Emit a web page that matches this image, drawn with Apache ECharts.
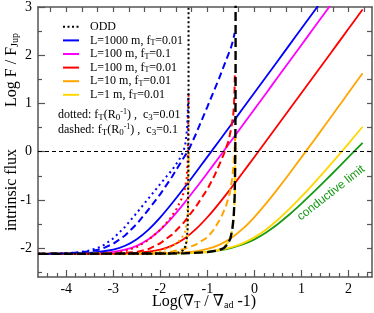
<!DOCTYPE html>
<html>
<head>
<meta charset="utf-8">
<script src="https://cdn.jsdelivr.net/npm/echarts@6/dist/echarts.min.js"></script>
<style>html,body{margin:0;padding:0;background:#fff;}#c{width:374px;height:313px;}</style>
</head>
<body>
<div id="c"></div>
<script>
// ---- tick values ----
const xMajorTicks = [-4, -3, -2, -1, 0, 1, 2];
const xMinorTicks = [-4.4, -4.2, -3.8, -3.6, -3.4, -3.2, -2.8, -2.6, -2.4, -2.2, -1.8, -1.6, -1.4, -1.2, -0.8, -0.6, -0.4, -0.2, 0.2, 0.4, 0.6, 0.8, 1.2, 1.4, 1.6, 1.8, 2.2, 2.4];
const xTopTicks = [-4.333, -4, -3.667, -3.333, -3, -2.667, -2.333, -2, -1.667, -1.333, -1, -0.667, -0.333, 0, 0.333, 0.667, 1, 1.333, 1.667, 2, 2.333];
const yMajorTicks = [-2, -1, 0, 1, 2, 3];
const yMinorTicks = [-2.5, -1.5, -0.5, 0.5, 1.5, 2.5];
const yRightTicks = [-2.5, -2, -1.5, -1, -0.5, 0, 0.5, 1, 1.5, 2, 2.5];

// ---- solid curves (common x grid) ----
const xGrid = [-4.6, -4.0, -3.5, -3.0, -2.75, -2.5, -2.25, -2.0, -1.75, -1.5, -1.25, -1.0, -0.75, -0.5, -0.25, 0, 0.25, 0.5, 0.75, 1.0, 1.25, 1.5, 1.75, 2.0, 2.3];
const yBlue    = [-2.119, -2.115, -2.100, -2.033, -1.952, -1.815, -1.616, -1.363, -1.071, -0.760, -0.437, -0.108, 0.222, 0.554, 0.888, 1.220, 1.553, 1.887, 2.220, 2.553, 2.887, 3.220, 3.553, 3.887, 4.287];
const yMagenta = [-2.120, -2.118, -2.111, -2.078, -2.034, -1.953, -1.818, -1.620, -1.367, -1.077, -0.766, -0.443, -0.115, 0.216, 0.548, 0.881, 1.213, 1.547, 1.880, 2.213, 2.547, 2.880, 3.213, 3.547, 3.947];
const yRed     = [-2.120, -2.120, -2.119, -2.115, -2.110, -2.099, -2.076, -2.032, -1.949, -1.812, -1.613, -1.361, -1.072, -0.761, -0.439, -0.111, 0.219, 0.551, 0.883, 1.215, 1.549, 1.881, 2.214, 2.548, 2.948];
const yOrange  = [-2.120, -2.120, -2.120, -2.119, -2.119, -2.118, -2.116, -2.113, -2.104, -2.092, -2.067, -2.019, -1.934, -1.797, -1.603, -1.356, -1.073, -0.766, -0.447, -0.119, 0.212, 0.547, 0.883, 1.220, 1.627];
const yYellow  = [-2.120, -2.120, -2.120, -2.119, -2.119, -2.118, -2.117, -2.115, -2.112, -2.106, -2.095, -2.075, -2.041, -1.987, -1.901, -1.778, -1.613, -1.413, -1.184, -0.935, -0.672, -0.399, -0.119, 0.167, 0.517];
const yGreen   = [-2.120, -2.120, -2.120, -2.120, -2.119, -2.119, -2.118, -2.115, -2.112, -2.106, -2.096, -2.078, -2.049, -2.000, -1.926, -1.819, -1.676, -1.500, -1.299, -1.078, -0.846, -0.606, -0.362, -0.115, 0.182];

// ---- dotted curves: fT(R0^-1), c3=0.01 ----
const blackDotted = [[-4.6,-2.12],[-3.0,-2.12],[-2.0,-2.118],[-1.75,-2.11],[-1.6,-2.09],[-1.52,-2.05],[-1.47,-1.97],[-1.44,-1.85],[-1.42,-1.6],[-1.41,-1.1],[-1.403,-0.2],[-1.4,1.0],[-1.4,3.2]];
const blueDotted = [[-4.6,-2.12],[-4.0,-2.11],[-3.75,-2.09],[-3.5,-2.05],[-3.25,-1.97],[-3.0,-1.8],[-2.75,-1.56],[-2.5,-1.27],[-2.25,-0.97],[-2.0,-0.67],[-1.75,-0.38],[-1.6,-0.17],[-1.5,0.03],[-1.46,0.2],[-1.43,0.5],[-1.415,0.85],[-1.405,1.2]];
const redDotted = [[-4.6,-2.12],[-3.25,-2.115],[-3.0,-2.1],[-2.75,-2.06],[-2.5,-1.98],[-2.25,-1.83],[-2.0,-1.62],[-1.8,-1.4],[-1.65,-1.18],[-1.55,-0.98],[-1.48,-0.78],[-1.44,-0.55],[-1.42,-0.2],[-1.41,0.3],[-1.4,1.2]];
const orangeDotted = [[-4.6,-2.12],[-2.5,-2.115],[-2.25,-2.1],[-2.0,-2.06],[-1.8,-1.99],[-1.65,-1.9],[-1.55,-1.8],[-1.48,-1.68],[-1.44,-1.5],[-1.42,-1.25],[-1.41,-0.8],[-1.4,0.0]];
const yellowDotted = [[-4.6,-2.12],[-2.5,-2.12],[-2.0,-2.115],[-1.75,-2.1],[-1.6,-2.07],[-1.5,-2.02],[-1.45,-1.95],[-1.42,-1.78],[-1.41,-1.5],[-1.405,-1.0],[-1.4,-0.3],[-1.398,0.1]];

// ---- dashed curves: fT(R0^-1), c3=0.1 ----
const blackDashed = [[-4.6,-2.12],[-1.5,-2.11],[-1.0,-2.085],[-0.75,-2.045],[-0.65,-2.0],[-0.57,-1.92],[-0.51,-1.8],[-0.47,-1.62],[-0.44,-1.35],[-0.42,-0.95],[-0.41,-0.4],[-0.403,0.5],[-0.4,1.5],[-0.4,3.2]];
const blueDashed = [[-4.6,-2.12],[-4.0,-2.11],[-3.5,-2.07],[-3.25,-2.02],[-3.0,-1.91],[-2.75,-1.74],[-2.5,-1.5],[-2.25,-1.2],[-2.0,-0.88],[-1.75,-0.52],[-1.6,-0.28],[-1.5,-0.12],[-1.4,0.03],[-1.25,0.35],[-1.0,0.93],[-0.75,1.52],[-0.6,1.9],[-0.5,2.15],[-0.45,2.32],[-0.42,2.46]];
const redDashed = [[-4.6,-2.12],[-3.0,-2.115],[-2.5,-2.08],[-2.25,-2.02],[-2.0,-1.9],[-1.75,-1.72],[-1.5,-1.47],[-1.25,-1.15],[-1.0,-0.78],[-0.85,-0.5],[-0.75,-0.28],[-0.65,-0.05],[-0.55,0.22],[-0.5,0.45],[-0.45,0.75],[-0.43,1.05],[-0.42,1.35],[-0.415,1.65]];
const orangeDashed = [[-4.6,-2.12],[-2.5,-2.115],[-2.0,-2.1],[-1.75,-2.07],[-1.5,-2.02],[-1.25,-1.93],[-1.0,-1.78],[-0.85,-1.6],[-0.7,-1.35],[-0.6,-1.12],[-0.52,-0.85],[-0.47,-0.55],[-0.44,-0.25],[-0.42,0.05],[-0.41,0.3]];
const yellowDashed = [[-4.6,-2.12],[-1.5,-2.105],[-1.0,-2.085],[-0.8,-2.05],[-0.65,-1.98],[-0.55,-1.87],[-0.49,-1.72],[-0.45,-1.5],[-0.43,-1.2],[-0.415,-0.8],[-0.405,-0.2],[-0.4,0.3]];

const legendNames = ['ODD', 'L=1000 m, fT=0.01', 'L=100 m, fT=0.1', 'L=100 m, fT=0.01', 'L=10 m, fT=0.01', 'L=1 m, fT=0.01'];
const legendRich = {
  'ODD': 'ODD',
  'L=1000 m, fT=0.01': 'L=1000 m, f{s|T}=0.01',
  'L=100 m, fT=0.1': 'L=100 m, f{s|T}=0.1',
  'L=100 m, fT=0.01': 'L=100 m, f{s|T}=0.01',
  'L=10 m, fT=0.01': 'L=10 m, f{s|T}=0.01',
  'L=1 m, fT=0.01': 'L=1 m, f{s|T}=0.01'
};

const C = {blue:'#0000ff', magenta:'#ff00ff', red:'#ff0000', orange:'#ffa500', yellow:'#ffd700', green:'#169a16', black:'#000000'};
const SERIF = "'Liberation Serif', 'DejaVu Serif', serif";
const AX = '#555';

function zip(xs, ys) { return xs.map((x, i) => [x, ys[i]]); }
function line(name, data, color, type, width, z, smooth) {
  return {
    name: name, type: 'line', data: data, showSymbol: false, symbol: 'none',
    smooth: smooth ? 0.3 : false, clip: true, silent: true, z: z,
    lineStyle: {color: color, width: width, type: type, cap: 'butt'},
    itemStyle: {color: color}
  };
}
const DOT = [2, 3.5], DASH = [7, 4];

const series = [
  line('cond', zip(xGrid, yGreen), C.green, 'solid', 1.8, 2, true),
  line('L=1 m, fT=0.01', zip(xGrid, yYellow), C.yellow, 'solid', 1.8, 2, true),
  line('L=10 m, fT=0.01', zip(xGrid, yOrange), C.orange, 'solid', 1.8, 2, true),
  line('L=100 m, fT=0.01', zip(xGrid, yRed), C.red, 'solid', 1.8, 2, true),
  line('L=100 m, fT=0.1', zip(xGrid, yMagenta), C.magenta, 'solid', 1.8, 2, true),
  line('L=1000 m, fT=0.01', zip(xGrid, yBlue), C.blue, 'solid', 1.8, 2, true),
  line('yDot', yellowDotted, C.yellow, DOT, 2, 3),
  line('oDot', orangeDotted, C.orange, DOT, 2, 3),
  line('rDot', redDotted, C.red, DOT, 2, 3),
  line('bDot', blueDotted, C.blue, DOT, 2, 3),
  line('yDash', yellowDashed, C.yellow, DASH, 2, 3),
  line('oDash', orangeDashed, C.orange, DASH, 2, 3),
  line('rDash', redDashed, C.red, DASH, 2, 3),
  line('bDash', blueDashed, C.blue, DASH, 2, 3),
  line('ODD', blackDotted, C.black, [2, 2.5], 2, 4),
  line('kDash', blackDashed, C.black, [9, 4], 2.4, 5)
];
series[0].markLine = {
  silent: true, symbol: 'none', label: {show: false},
  lineStyle: {color: '#000', width: 1, type: [4, 3]},
  data: [{yAxis: 0}]
};

function xAx(pos, ticks, len, showLine, labels) {
  return {
    type: 'value', position: pos, min: -4.6, max: 2.5,
    axisLine: {show: showLine, onZero: false, lineStyle: {color: AX, width: 1.5}},
    axisTick: {show: true, inside: true, length: len, customValues: ticks, lineStyle: {color: AX, width: 1.2}},
    axisLabel: labels ? {show: true, customValues: ticks, color: '#000', fontFamily: SERIF, fontSize: 14, margin: 5} : {show: false},
    splitLine: {show: false}
  };
}
function yAx(pos, ticks, len, showLine, labels) {
  return {
    type: 'value', position: pos, min: -2.6, max: 3,
    axisLine: {show: showLine, onZero: false, lineStyle: {color: AX, width: 1.5}},
    axisTick: {show: true, inside: true, length: len, customValues: ticks, lineStyle: {color: AX, width: 1.2}},
    axisLabel: labels ? {show: true, customValues: ticks, color: '#000', fontFamily: SERIF, fontSize: 14, margin: 6} : {show: false},
    splitLine: {show: false}
  };
}

const subRich = {
  s: {fontSize: 10, fontFamily: SERIF, padding: [6, 0, 0, 0], color: '#000'},
  p: {fontSize: 8, fontFamily: SERIF, padding: [0, 0, 6, 0], color: '#000'}
};
const smallRich = {
  s: {fontSize: 9, fontFamily: SERIF, padding: [5, 0, 0, 0], color: '#000'},
  p: {fontSize: 8, fontFamily: SERIF, padding: [0, 0, 6, 0], color: '#000'}
};

const chart = echarts.init(document.getElementById('c'), null, {renderer: 'canvas'});
chart.setOption({
  animation: false,
  backgroundColor: '#fff',
  grid: {left: 38, right: 2, top: 6, bottom: 36, containLabel: false},
  xAxis: [
    xAx('bottom', xMajorTicks, 7, true, true),
    xAx('bottom', xMinorTicks, 4, false, false),
    xAx('top', xTopTicks, 5, true, false)
  ],
  yAxis: [
    yAx('left', yMajorTicks, 7, true, true),
    yAx('left', yMinorTicks, 4, false, false),
    yAx('right', yRightTicks, 5, true, false)
  ],
  legend: {
    show: true, orient: 'vertical', left: 62, top: 20, padding: 0,
    itemWidth: 16, itemHeight: 8, itemGap: 0,
    data: legendNames,
    formatter: n => legendRich[n],
    selectedMode: false,
    itemStyle: {opacity: 0},
    textStyle: {
      color: '#000', fontFamily: SERIF, fontSize: 12, lineHeight: 13.6, padding: [0, 0, 0, 6],
      rich: {s: {fontSize: 8, fontFamily: SERIF, padding: [5, 0, 0, 0], color: '#000'}}
    }
  },
  graphic: [
    {type: 'text', x: 12, y: 70, rotation: Math.PI / 2, silent: true,
     style: {text: 'Log F / F{s|Jup}', font: '16px ' + SERIF, fill: '#000', align: 'center', verticalAlign: 'middle', rich: subRich}},
    {type: 'text', x: 12, y: 190, rotation: Math.PI / 2, silent: true,
     style: {text: 'intrinsic flux', font: '16px ' + SERIF, fill: '#000', align: 'center', verticalAlign: 'middle'}},
    {type: 'text', x: 204, y: 302, silent: true,
     style: {text: 'Log(\u2207{s|T} / \u2207{s|ad} -1)', font: '16px ' + SERIF, fill: '#000', align: 'center', verticalAlign: 'middle', rich: subRich}},
    {type: 'text', x: 58, y: 115, silent: true,
     style: {text: 'dotted: f{s|T}(R{s|0}{p|-1}) ,  c{s|3}=0.01', font: '12px ' + SERIF, fill: '#000', align: 'left', verticalAlign: 'middle', rich: smallRich}},
    {type: 'text', x: 58, y: 130, silent: true,
     style: {text: 'dashed: f{s|T}(R{s|0}{p|-1}) ,  c{s|3}=0.1', font: '12px ' + SERIF, fill: '#000', align: 'left', verticalAlign: 'middle', rich: smallRich}},
    {type: 'text', x: 331, y: 193, rotation: 38 * Math.PI / 180, silent: true,
     style: {text: 'conductive limit', font: "12px 'Liberation Sans', Arial, sans-serif", fill: C.green, align: 'center', verticalAlign: 'middle'}}
  ],
  series: series
});
</script>
</body>
</html>
